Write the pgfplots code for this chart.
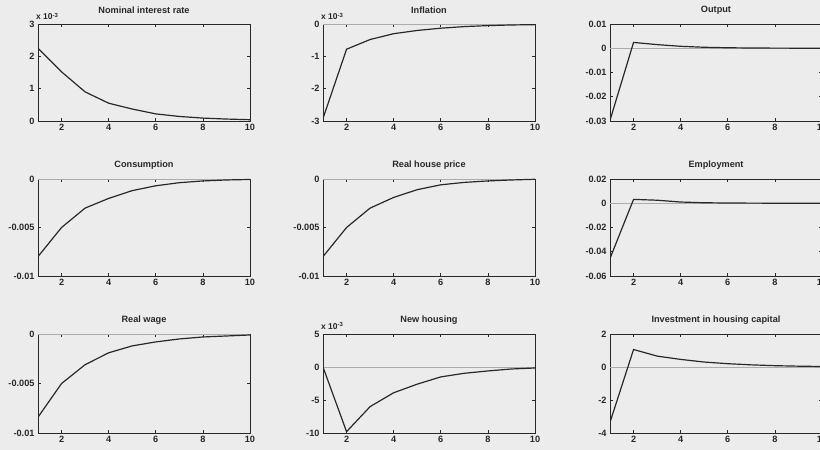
\documentclass[border=0pt]{standalone}
\usepackage{pgfplots}
\pgfplotsset{compat=1.18}
\usepackage{fontspec}
\setmainfont{Liberation Sans}
\definecolor{bg}{RGB}{236,236,236}
\definecolor{ink}{RGB}{40,40,40}
\pgfplotsset{irf/.style={
  scale only axis, width=212bp, height=97bp,
  xmin=1, xmax=10, xtick={2,4,6,8,10}, xticklabels={2,4,6,8,10},
  scaled y ticks=false, scaled x ticks=false,
  tick align=inside, major tick length=3bp,
  axis line style={line width=0.8pt, ink},
  every tick/.style={ink, line width=0.6pt},
  ticklabel style={font=\fontsize{9.2}{10}\selectfont\bfseries, text=ink},
  title style={font=\fontsize{9.2}{10}\selectfont\bfseries, text=ink, at={(0.5,1)}, anchor=south, yshift=0.5bp},
  clip mode=individual,
  anchor=north west,
}}
\newcommand{\zeroline}{\addplot[line width=0.6pt, gray!65, no marks] coordinates {(1,0) (10,0)};}
\newcommand{\curve}{\addplot[line width=1.2pt, ink, no marks]}
\newcommand{\sci}{\node[anchor=south west, font=\fontsize{8.5}{9}\selectfont\bfseries, text=ink, inner sep=0pt] at (rel axis cs:-0.01,1.04) {x 10\textsuperscript{-3}};}
\begin{document}
\begin{tikzpicture}
\useasboundingbox (0,0) rectangle (820bp,450bp);
\fill[bg] (0,0) rectangle (820bp,450bp);
% Row 1
\begin{axis}[irf, at={(38bp,426bp)}, title={Nominal interest rate}, ymin=0, ymax=3, ytick={0,1,2,3}, yticklabels={0,1,2,3}]
\zeroline
\curve coordinates {(1,2.25)(2,1.52)(3,0.9)(4,0.55)(5,0.37)(6,0.22)(7,0.14)(8,0.09)(9,0.06)(10,0.04)};
\sci
\end{axis}
\begin{axis}[irf, at={(323bp,426bp)}, title={Inflation}, ymin=-3, ymax=0, ytick={-3,-2,-1,0}, yticklabels={-3,-2,-1,0}]
\zeroline
\curve coordinates {(1,-2.92)(2,-0.78)(3,-0.48)(4,-0.3)(5,-0.2)(6,-0.13)(7,-0.08)(8,-0.05)(9,-0.03)(10,-0.02)};
\sci
\end{axis}
\begin{axis}[irf, at={(610bp,426bp)}, title={Output}, ymin=-0.03, ymax=0.01, ytick={-0.03,-0.02,-0.01,0,0.01}, yticklabels={-0.03,-0.02,-0.01,0,0.01}]
\zeroline
\curve coordinates {(1,-0.0297)(2,0.0024)(3,0.0015)(4,0.0008)(5,0.0004)(6,0.0002)(7,0.0001)(8,0.00005)(9,0.00003)(10,0.00001)};
\end{axis}
% Row 2
\begin{axis}[irf, at={(38bp,271bp)}, title={Consumption}, ymin=-0.01, ymax=0, ytick={-0.01,-0.005,0}, yticklabels={-0.01,-0.005,0}]
\zeroline
\curve coordinates {(1,-0.0080)(2,-0.0050)(3,-0.0030)(4,-0.0020)(5,-0.0012)(6,-0.0007)(7,-0.00038)(8,-0.0002)(9,-0.0001)(10,-0.00005)};
\end{axis}
\begin{axis}[irf, at={(323bp,271bp)}, title={Real house price}, ymin=-0.01, ymax=0, ytick={-0.01,-0.005,0}, yticklabels={-0.01,-0.005,0}]
\zeroline
\curve coordinates {(1,-0.0080)(2,-0.0050)(3,-0.0030)(4,-0.0019)(5,-0.0011)(6,-0.0006)(7,-0.00035)(8,-0.0002)(9,-0.0001)(10,-0.00003)};
\end{axis}
\begin{axis}[irf, at={(610bp,271bp)}, title={Employment}, ymin=-0.06, ymax=0.02, ytick={-0.06,-0.04,-0.02,0,0.02}, yticklabels={-0.06,-0.04,-0.02,0,0.02}]
\zeroline
\curve coordinates {(1,-0.0455)(2,0.0032)(3,0.0025)(4,0.001)(5,0.0004)(6,0.0002)(7,0.0001)(8,0.00005)(9,0.00003)(10,0.00001)};
\end{axis}
% Row 3
\begin{axis}[irf, at={(38bp,116bp)}, height=99bp, title={Real wage}, ymin=-0.01, ymax=0, ytick={-0.01,-0.005,0}, yticklabels={-0.01,-0.005,0}]
\zeroline
\curve coordinates {(1,-0.0084)(2,-0.0050)(3,-0.0031)(4,-0.0019)(5,-0.0012)(6,-0.0008)(7,-0.0005)(8,-0.0003)(9,-0.0002)(10,-0.0001)};
\end{axis}
\begin{axis}[irf, at={(323bp,116bp)}, height=99bp, title={New housing}, ymin=-10, ymax=5, ytick={-10,-5,0,5}, yticklabels={-10,-5,0,5}]
\zeroline
\curve coordinates {(1,0)(2,-9.8)(3,-6.0)(4,-3.9)(5,-2.6)(6,-1.5)(7,-0.95)(8,-0.6)(9,-0.3)(10,-0.15)};
\sci
\end{axis}
\begin{axis}[irf, at={(610bp,116bp)}, height=99bp, title={Investment in housing capital}, ymin=-4, ymax=2, ytick={-4,-2,0,2}, yticklabels={-4,-2,0,2}]
\zeroline
\curve coordinates {(1,-3.35)(2,1.06)(3,0.66)(4,0.46)(5,0.3)(6,0.2)(7,0.13)(8,0.08)(9,0.05)(10,0.03)};
\end{axis}
\end{tikzpicture}
\end{document}
